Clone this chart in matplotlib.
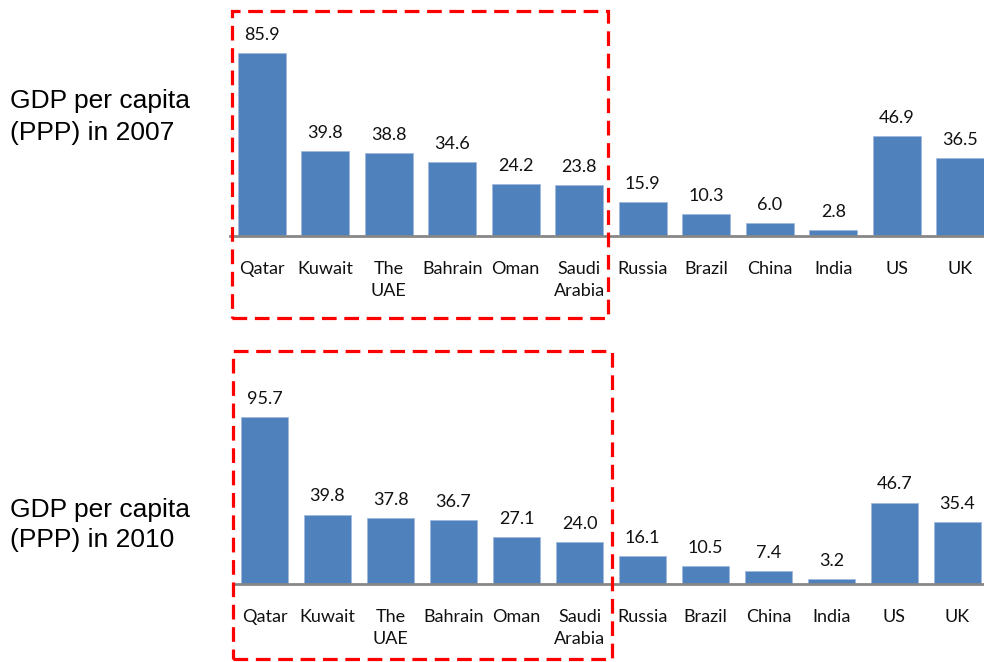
import matplotlib
matplotlib.use('Agg')
import matplotlib.pyplot as plt
from matplotlib.patches import Rectangle

# Data (GDP per capita, PPP, thousand USD)
countries = ['Qatar', 'Kuwait', 'The\nUAE', 'Bahrain', 'Oman', 'Saudi\nArabia',
             'Russia', 'Brazil', 'China', 'India', 'US', 'UK']
gdp_2007 = [85.9, 39.8, 38.8, 34.6, 24.2, 23.8, 15.9, 10.3, 6.0, 2.8, 46.9, 36.5]
gdp_2010 = [95.7, 39.8, 37.8, 36.7, 27.1, 24.0, 16.1, 10.5, 7.4, 3.2, 46.7, 35.4]
panel_titles = ['GDP per capita\n(PPP) in 2007', 'GDP per capita\n(PPP) in 2010']

W, H = 984, 662
bar_color = '#4F81BD'
axis_color = '#878787'
red = '#FF0000'
label_font = 'Lato'

fig = plt.figure(figsize=(W / 100, H / 100), dpi=100)


def px_axes(left, top, right, bottom):
    # axes placed in pixel coordinates (top-left origin)
    return fig.add_axes([left / W, 1 - bottom / H, (right - left) / W, (bottom - top) / H])


def draw_panel(ax, values, ymax):
    x = range(len(values))
    bars = ax.bar(x, values, width=0.76, color=bar_color, edgecolor='#9fb9dc', linewidth=0.6)
    ax.set_xlim(-0.5, len(values) - 0.5)
    ax.set_ylim(0, ymax)
    for rect, v in zip(bars, values):
        ax.annotate(f'{v:.1f}', xy=(rect.get_x() + rect.get_width() / 2, v),
                    xytext=(0, 9.5), textcoords='offset points',
                    ha='center', va='baseline', fontsize=13, family=label_font,
                    color='#111111')
    ax.set_xticks(list(x))
    ax.set_xticklabels(countries, fontsize=13, family=label_font, color='#111111',
                       linespacing=1.45)
    ax.tick_params(axis='x', length=0, pad=18)
    ax.set_yticks([])
    for s in ['top', 'left', 'right']:
        ax.spines[s].set_visible(False)
    ax.spines['bottom'].set_color(axis_color)
    ax.spines['bottom'].set_linewidth(2)
    ax.patch.set_alpha(0)


ax1 = px_axes(230, 10, 992, 235.7)
draw_panel(ax1, gdp_2007, 106.1)
ax2 = px_axes(233, 350, 989, 584.3)
draw_panel(ax2, gdp_2010, 133.8)

# Left-hand panel titles
fig.text(10 / W, 1 - 117 / H, panel_titles[0], ha='left', va='center',
         fontsize=19, family='Liberation Sans', linespacing=1.38)
fig.text(10 / W, 1 - 525 / H, panel_titles[1], ha='left', va='center',
         fontsize=19, family='Liberation Sans', linespacing=1.3)

# Red dashed highlight boxes around the Gulf countries
for (l, t, r, b) in [(231.5, 10.5, 608, 318), (233, 351, 611.5, 659)]:
    fig.patches.append(Rectangle((l / W, 1 - b / H), (r - l) / W, (b - t) / H,
                                 transform=fig.transFigure, fill=False,
                                 edgecolor=red, linewidth=2.3,
                                 linestyle=(0, (4.6, 2.4)), zorder=10))

fig.savefig('out.png', dpi=100)
